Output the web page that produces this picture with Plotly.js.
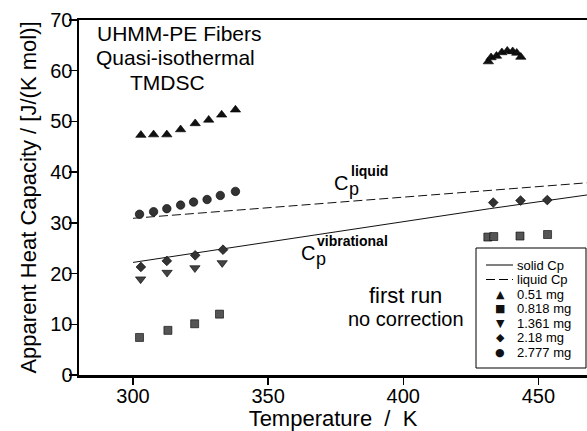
<!DOCTYPE html>
<html><head><meta charset="utf-8">
<script src="https://cdn.plot.ly/plotly-3.0.1.min.js"></script>
<style>html,body{margin:0;padding:0;background:#fff}#chart{width:587px;height:431px}</style>
</head><body><div id="chart"></div>
<script>
// ---- data ----
const T_051 = [302.9, 307.6, 312.5, 317.6, 323.0, 328.0, 332.8, 337.9, 431.5, 432.5, 434.5, 436.5, 438.5, 440.5, 442.0, 443.5];
const Cp_051 = [47.3, 47.4, 47.4, 48.4, 49.6, 50.3, 51.3, 52.3, 61.8, 62.6, 62.9, 63.6, 63.9, 63.8, 63.5, 62.7];
const T_0818 = [302.4, 312.9, 322.8, 332.0, 431.3, 433.5, 443.2, 453.4];
const Cp_0818 = [7.4, 8.8, 10.1, 12.0, 27.2, 27.3, 27.4, 27.7];
const T_1361 = [302.8, 312.6, 322.9, 333.0];
const Cp_1361 = [18.9, 20.2, 21.1, 22.1];
const T_218 = [302.9, 312.5, 323.0, 333.3, 433.3, 443.4, 453.3];
const Cp_218 = [21.3, 22.5, 23.6, 24.7, 34.0, 34.4, 34.5];
const T_2777 = [302.4, 307.6, 312.5, 317.6, 322.4, 327.4, 332.3, 337.9];
const Cp_2777 = [31.7, 32.2, 32.8, 33.5, 34.1, 34.6, 35.4, 36.2];
const T_solid = [300, 340, 380, 432, 468];
const Cp_solid = [22.2, 25.4, 28.6, 32.8, 35.5];
const T_liquid = [300, 468];
const Cp_liquid = [30.9, 37.9];
const xTicks = [300, 350, 400, 450];
const yTicks = [0, 10, 20, 30, 40, 50, 60, 70];
const legendLabels = ['solid Cp', 'liquid Cp', '0.51 mg', '0.818 mg', '1.361 mg', '2.18 mg', '2.777 mg'];
const legendGlyphs = ['', '', '\u25B2', '\u25A0', '\u25BC', '\u25C6', '\u25CF'];

// ---- layout helpers (pixel -> paper) ----
const L = 79, R = 587, TOP = 20, BOT = 375;
const X = px => (px - L) / (R - L);
const Y = py => (BOT - py) / (BOT - TOP);
const FONT = 'Liberation Sans, Arial, Helvetica, sans-serif';

function mk(sym, col, size) {
  return {symbol: sym, color: col, size: size, line: {color: '#000', width: 0.6}};
}

const traces = [
  {x: T_solid, y: Cp_solid, mode: 'lines', name: 'solid Cp', line: {color: '#111', width: 1}},
  {x: T_liquid, y: Cp_liquid, mode: 'lines', name: 'liquid Cp', line: {color: '#111', width: 1, dash: '9px,4px'}},
  {x: T_051, y: Cp_051, mode: 'markers', name: '0.51 mg', marker: mk('triangle-up', '#111', 9)},
  {x: T_0818, y: Cp_0818, mode: 'markers', name: '0.818 mg', marker: mk('square', '#555', 8)},
  {x: T_1361, y: Cp_1361, mode: 'markers', name: '1.361 mg', marker: mk('triangle-down', '#444', 9)},
  {x: T_218, y: Cp_218, mode: 'markers', name: '2.18 mg', marker: mk('diamond', '#333', 7.5)},
  {x: T_2777, y: Cp_2777, mode: 'markers', name: '2.777 mg', marker: mk('circle', '#333', 8.5)}
];

const ann = [];
function txt(text, px, py, size, xanchor, extra) {
  ann.push(Object.assign({
    text: text, xref: 'paper', yref: 'paper', x: X(px), y: Y(py),
    xanchor: xanchor || 'center', yanchor: 'middle', showarrow: false, borderpad: 0,
    font: {family: FONT, size: size, color: '#000'}
  }, extra || {}));
}
txt('UHMM-PE Fibers', 179, 34, 21);
txt('Quasi-isothermal', 175, 57.5, 21);
txt('TMDSC', 167.5, 82, 21);
// Cp with stacked superscript (liquid)
txt('C', 333, 183, 20, 'left');
txt('p', 347.5, 188.8, 18, 'left');
txt('<b>liquid</b>', 350, 170.6, 14, 'left');
// Cp with stacked superscript (vibrational)
txt('C', 300, 253, 20, 'left');
txt('p', 314.5, 258.8, 18, 'left');
txt('<b>vibrational</b>', 316, 240.8, 14, 'left');
txt('first run', 405.5, 295.4, 22);
txt('no correction', 406, 319, 20);

const shapes = [
  {type: 'rect', xref: 'paper', yref: 'paper', x0: X(476), x1: X(586), y0: Y(368), y1: Y(248),
   line: {color: '#000', width: 1}, fillcolor: 'rgba(255,255,255,1)', layer: 'above'}
];
const ly0 = 265, ldy = 14.5;
legendLabels.forEach((lab, i) => {
  const yy = ly0 + i * ldy;
  txt(lab, 516, yy, 13, 'left');
  if (i === 0 || i === 1) {
    shapes.push({type: 'line', xref: 'paper', yref: 'paper', x0: X(486), x1: X(513), y0: Y(yy), y1: Y(yy),
      line: {color: '#000', width: 1, dash: i === 1 ? '9px,4px' : 'solid'}, layer: 'above'});
  } else {
    txt(legendGlyphs[i], 500, yy, 11, 'center', {font: {family: 'DejaVu Sans, sans-serif', size: 11, color: '#111'}});
  }
});

const layout = {
  width: 587, height: 431,
  margin: {l: L, r: 587 - R, t: TOP, b: 431 - BOT},
  paper_bgcolor: '#fff', plot_bgcolor: '#fff',
  showlegend: false,
  font: {family: FONT, color: '#000'},
  xaxis: {
    range: [280, 468], tickvals: xTicks, ticktext: xTicks.map(String),
    ticks: 'outside', ticklen: 7, tickwidth: 1.5, tickcolor: '#000', ticklabelstandoff: -6,
    showline: true, linewidth: 2.5, linecolor: '#000', mirror: true,
    showgrid: false, zeroline: false,
    tickfont: {family: FONT, size: 20, color: '#000'},
    title: {text: 'Temperature\u00a0\u00a0/\u00a0\u00a0K', font: {family: FONT, size: 22, color: '#000'}, standoff: 6}
  },
  yaxis: {
    range: [0, 70], tickvals: yTicks, ticktext: yTicks.map(String),
    ticks: 'outside', ticklen: 8, tickwidth: 1.5, tickcolor: '#000', ticklabelstandoff: -8,
    showline: true, linewidth: 2.5, linecolor: '#000', mirror: false,
    showgrid: false, zeroline: false,
    tickfont: {family: FONT, size: 20, color: '#000'},
    title: {text: 'Apparent Heat Capacity / [J/(K mol)]', font: {family: FONT, size: 22, color: '#000'}, standoff: 8}
  },
  annotations: ann,
  shapes: shapes
};

Plotly.newPlot('chart', traces, layout, {staticPlot: true, displayModeBar: false});
</script>
</body></html>
